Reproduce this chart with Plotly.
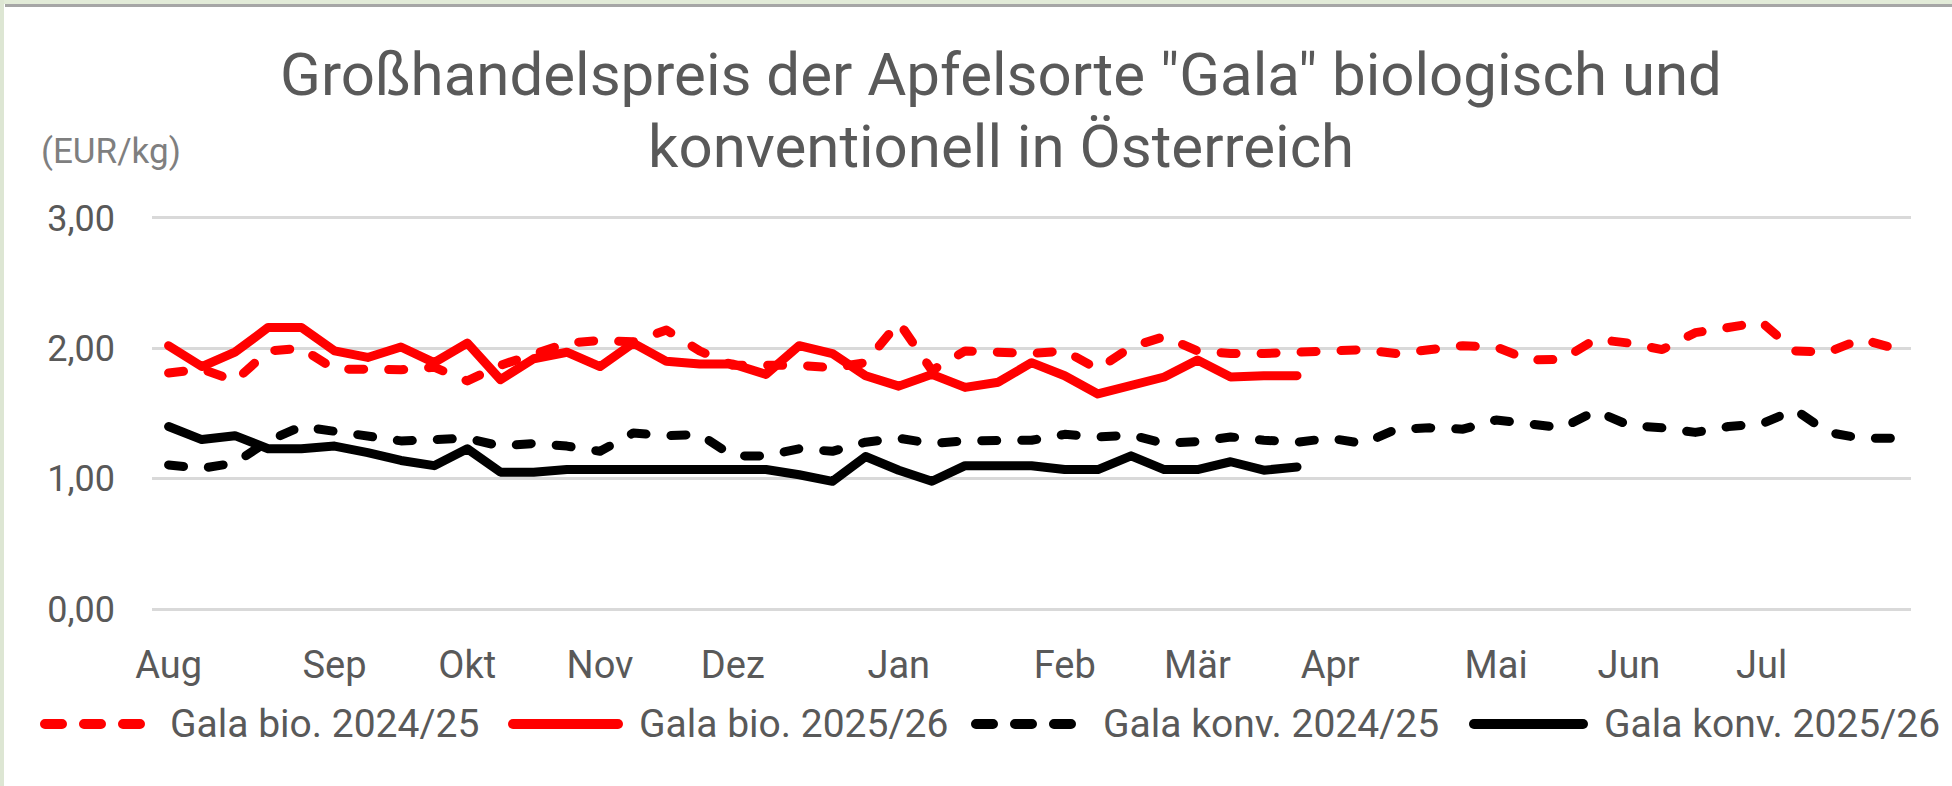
import plotly.graph_objects as go

# ---------------- data ----------------
weeks = list(range(53))
month_labels = ["Aug", "Sep", "Okt", "Nov", "Dez", "Jan", "Feb", "Mär", "Apr", "Mai", "Jun", "Jul"]
month_tick_weeks = [0, 5, 9, 13, 17, 22, 27, 31, 35, 40, 44, 48]

bio_2024_25 = [1.81, 1.84, 1.75, 1.98, 2.00, 1.84, 1.84, 1.835, 1.855, 1.75,
               1.87, 1.96, 2.04, 2.06, 2.05, 2.14, 1.98, 1.87, 1.87, 1.87,
               1.85, 1.89, 2.20, 1.83, 1.98, 1.97, 1.96, 1.98, 1.84, 2.01,
               2.09, 1.98, 1.96, 1.96, 1.97, 1.99, 1.99, 1.96, 1.99, 2.02,
               2.01, 1.91, 1.915, 2.07, 2.04, 1.99, 2.12, 2.16, 2.20, 1.98,
               1.97, 2.07, 2.00]
bio_2025_26 = [2.02, 1.86, 1.97, 2.16, 2.16, 1.98, 1.93, 2.01, 1.89, 2.04,
               1.76, 1.92, 1.97, 1.86, 2.04, 1.90, 1.88, 1.88, 1.80, 2.02,
               1.96, 1.79, 1.71, 1.80, 1.70, 1.74, 1.89, 1.79, 1.65, 1.71,
               1.78, 1.91, 1.78, 1.79, 1.79]
konv_2024_25 = [1.105, 1.08, 1.12, 1.29, 1.40, 1.36, 1.32, 1.29, 1.30, 1.31,
                1.25, 1.27, 1.25, 1.21, 1.35, 1.33, 1.34, 1.175, 1.175, 1.23,
                1.21, 1.28, 1.31, 1.27, 1.29, 1.295, 1.295, 1.34, 1.32, 1.335,
                1.27, 1.285, 1.32, 1.295, 1.28, 1.31, 1.27, 1.38, 1.39, 1.38,
                1.45, 1.42, 1.39, 1.52, 1.41, 1.39, 1.355, 1.40, 1.42, 1.53,
                1.355, 1.31, 1.31]
konv_2025_26 = [1.40, 1.30, 1.33, 1.23, 1.23, 1.25, 1.20, 1.14, 1.10, 1.23,
                1.05, 1.05, 1.07, 1.07, 1.07, 1.085, 1.07, 1.07, 1.07, 1.03,
                0.98, 1.17, 1.065, 0.98, 1.10, 1.10, 1.10, 1.07, 1.07, 1.175,
                1.07, 1.07, 1.13, 1.065, 1.09]

series_names = ["Gala bio. 2024/25", "Gala bio. 2025/26", "Gala konv. 2024/25", "Gala konv. 2025/26"]
series_values = [bio_2024_25, bio_2025_26, konv_2024_25, konv_2025_26]
series_colors = ["#FF0000", "#FF0000", "#000000", "#000000"]
series_dash = ["15px,25px", "solid", "15px,25px", "solid"]

title_line1 = 'Großhandelspreis der Apfelsorte "Gala" biologisch und'
title_line2 = "konventionell in Österreich"
unit_text = "(EUR/kg)"

# ---------------- layout geometry ----------------
FW, FH = 1952, 786
L, R, T, B = 152, 41, 214, 173
PW, PH = FW - L - R, FH - T - B


def pxx(px):
    return (px - L) / PW


def pxy(py):
    return (FH - B - py) / PH


FONT = "Roboto"
GRAY = "#595959"

fig = go.Figure()
for name, vals, col, dash in zip(series_names, series_values, series_colors, series_dash):
    fig.add_trace(go.Scatter(
        x=weeks[:len(vals)], y=vals, mode="lines", name=name,
        line=dict(color=col, width=9, dash=dash),
        showlegend=False,
    ))

shapes = []
annotations = []

# frame decorations
shapes.append(dict(type="rect", xref="paper", yref="paper",
                   x0=pxx(0), x1=pxx(FW), y0=pxy(0), y1=pxy(4),
                   fillcolor="#e2ebd8", line=dict(width=0), layer="below"))
shapes.append(dict(type="rect", xref="paper", yref="paper",
                   x0=pxx(5), x1=pxx(FW), y0=pxy(4), y1=pxy(7),
                   fillcolor="#a6a6a6", line=dict(width=0), layer="below"))
shapes.append(dict(type="rect", xref="paper", yref="paper",
                   x0=pxx(0), x1=pxx(4), y0=pxy(0), y1=pxy(FH),
                   fillcolor="#dde6d3", line=dict(width=0), layer="below"))

# custom legend
leg_y = 724
leg_sym = [(40, 149), (508, 623), (971, 1078), (1469, 1588)]
leg_txt = [168, 637, 1101, 1602]
leg_dash = ["17px,22px", "solid", "17px,22px", "solid"]
for (s0, s1), tx, name, col, dash in zip(leg_sym, leg_txt, series_names, series_colors, leg_dash):
    shapes.append(dict(type="line", xref="paper", yref="paper",
                       x0=pxx(s0 + 5), x1=pxx(s1 - 5), y0=pxy(leg_y), y1=pxy(leg_y),
                       line=dict(color=col, width=10, dash=dash)))
    annotations.append(dict(xref="paper", yref="paper", x=pxx(tx), y=pxy(leg_y),
                            xanchor="left", yanchor="middle", showarrow=False,
                            text=name, font=dict(family=FONT, size=39, color=GRAY)))

annotations.append(dict(xref="paper", yref="paper", x=pxx(111), y=pxy(152),
                        xanchor="center", yanchor="middle", showarrow=False,
                        text=unit_text, font=dict(family=FONT, size=35, color="#7f7f7f")))

annotations.append(dict(xref="paper", yref="paper", x=pxx(1001), y=pxy(146),
                        xanchor="center", yanchor="middle", showarrow=False,
                        text=title_line2, font=dict(family=FONT, size=60, color=GRAY)))

fig.update_layout(
    width=FW, height=FH,
    margin=dict(l=L, r=R, t=T, b=B, pad=0),
    paper_bgcolor="white", plot_bgcolor="white",
    separators=",.",
    title=dict(text=title_line1, x=1001 / FW, xanchor="center", xref="container",
               y=1 - 74 / FH, yanchor="middle", yref="container",
               font=dict(family=FONT, size=60, color=GRAY)),
    xaxis=dict(range=[-0.5, 52.5], tickmode="array", tickvals=month_tick_weeks, ticktext=month_labels,
               showgrid=False, zeroline=False, showline=False, ticks="",
               tickfont=dict(family=FONT, size=38, color=GRAY), ticklabelstandoff=26),
    yaxis=dict(range=[-0.03, 3.03], tickmode="array", tickvals=[0, 1, 2, 3], tickformat=".2f",
               showgrid=True, gridcolor="#d9d9d9", gridwidth=3, zeroline=False, showline=False,
               ticks="", tickfont=dict(family=FONT, size=36, color=GRAY), ticklabelstandoff=36),
    shapes=shapes, annotations=annotations,
    showlegend=False,
)

post = """
document.body.style.margin = '0px';
document.documentElement.style.overflow = 'hidden';
var st = document.createElement('style');
st.textContent = '.scatterlayer .js-line, .shapelayer path {stroke-linecap: round !important; stroke-linejoin: round !important;}';
document.head.appendChild(st);
"""

fig.write_html("out.html", config={"displayModeBar": False}, post_script=post)
